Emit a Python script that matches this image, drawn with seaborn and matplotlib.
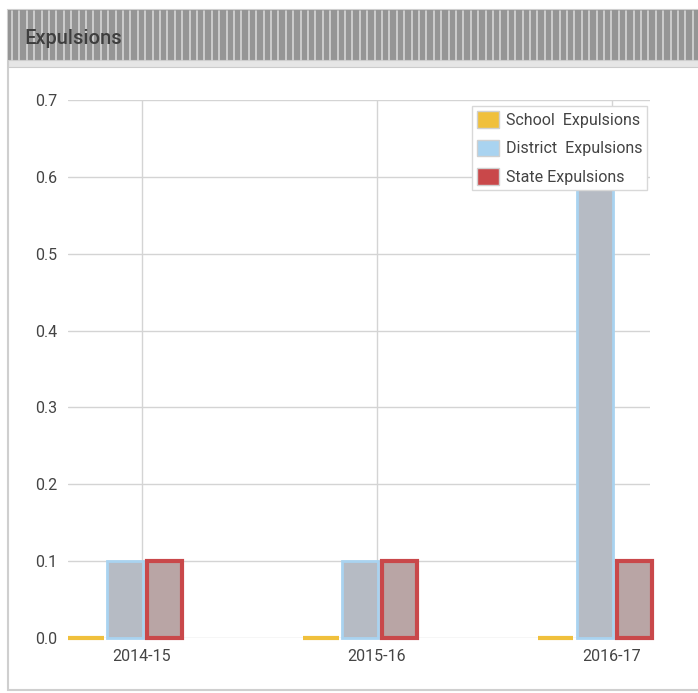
import matplotlib
matplotlib.use("Agg")
import matplotlib.pyplot as plt
import matplotlib.patches as mpatches
import seaborn as sns
import pandas as pd
from matplotlib import font_manager

years = ["2014-15", "2015-16", "2016-17"]
school = [0.0, 0.0, 0.0]
district = [0.1, 0.1, 0.6]
state = [0.1, 0.1, 0.1]
series_names = ["School  Expulsions", "District  Expulsions", "State Expulsions"]
y_ticks = [0.0, 0.1, 0.2, 0.3, 0.4, 0.5, 0.6, 0.7]

names = {f.name for f in font_manager.fontManager.ttflist}
fam = "Liberation Sans Narrow" if "Liberation Sans Narrow" in names else "Roboto"

sns.set_theme(style="white")
plt.rcParams["font.family"] = [fam, "DejaVu Sans"]

df = pd.DataFrame({
    "year": years * 3,
    "value": school + district + state,
    "series": [series_names[0]] * 3 + [series_names[1]] * 3 + [series_names[2]] * 3,
})

W, H = 698, 693
fig = plt.figure(figsize=(W / 100, H / 100), dpi=100)

# panel frame
fig.add_artist(mpatches.Rectangle((8 / W, 3 / H), 1, (H - 13) / H, transform=fig.transFigure,
                                  facecolor="white", edgecolor="#cfcfcf", lw=1.5, zorder=0))
# header bar
fig.add_artist(mpatches.Rectangle((8 / W, 1 - 60 / H), 1, 50 / H, transform=fig.transFigure,
                                  facecolor="#959595", edgecolor="none", zorder=1))
x = 12
while x < W:
    fig.add_artist(plt.Line2D([x / W, x / W], [1 - 60 / H, 1 - 11 / H], transform=fig.transFigure,
                              color="#dcdcdc", lw=1.1, zorder=2))
    x += 7.4
fig.add_artist(mpatches.Rectangle((8 / W, 1 - 67 / H), 1, 7 / H, transform=fig.transFigure,
                                  facecolor="#e6e6e6", edgecolor="#cccccc", lw=0.8, zorder=1))
fig.text(25 / W, 1 - 39 / H, "Expulsions", fontsize=14.5, color="#3e3e3e", va="center",
         ha="left", fontweight="medium", zorder=3)

ax = fig.add_axes([68 / W, 55 / H, 582 / W, 538 / H])
palette = ["#f0c03c", "#a9d3f0", "#c9484a"]
fills = ["#f0c03c", "#b6bbc4", "#b9a5a5"]
sns.barplot(data=df, x="year", y="value", hue="series", hue_order=series_names,
            palette=palette, width=0.5, gap=0.1, ax=ax, legend=False, zorder=3)

for i, cont in enumerate(ax.containers):
    for p in cont.patches:
        p.set_facecolor(fills[i])
        p.set_edgecolor(palette[i])
        p.set_linewidth([3.0, 2.0, 3.0][i])
        p.set_clip_on(False)

ax.set_xlim(-0.243, 2.234)
ax.set_ylim(0, 0.7)
offs = 0.072
ax.set_xticks([i + offs for i in range(len(years))])
ax.set_xticklabels(years)
ax.set_yticks(y_ticks)
ax.set_yticklabels([f"{v:.1f}" for v in y_ticks])
ax.grid(True, color="#d4d4d4", lw=1.0, zorder=0)
ax.set_axisbelow(True)
for s in ax.spines.values():
    s.set_visible(False)
ax.tick_params(length=0, labelsize=11.5, colors="#444444", pad=8)
ax.set_xlabel("")
ax.set_ylabel("")

handles = [mpatches.Patch(facecolor=c, edgecolor="#d0d0d0", lw=1) for c in palette]
leg = ax.legend(handles, series_names, loc="upper right", bbox_to_anchor=(0.995, 0.988),
                frameon=True, fontsize=11.5, handlelength=1.4, handleheight=1.2,
                labelspacing=0.75, borderpad=0.3, handletextpad=0.4, borderaxespad=0,
                fancybox=False, framealpha=1)
leg.get_frame().set_edgecolor("#d8d8d8")
leg.set_zorder(5)
for t in leg.get_texts():
    t.set_color("#444444")

fig.savefig("out.png", dpi=100)
